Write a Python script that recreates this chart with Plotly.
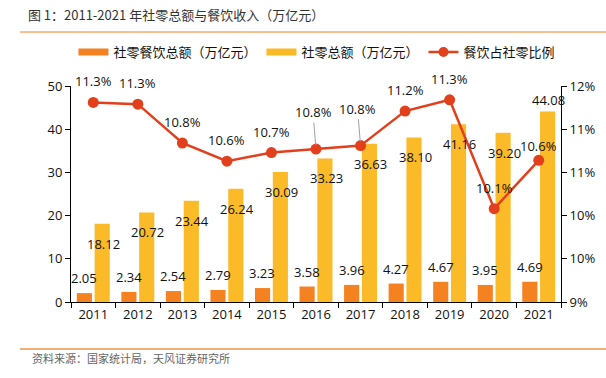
import plotly.graph_objects as go

years = ["2011", "2012", "2013", "2014", "2015", "2016", "2017", "2018", "2019", "2020", "2021"]
catering = [2.05, 2.34, 2.54, 2.79, 3.23, 3.58, 3.96, 4.27, 4.67, 3.95, 4.69]
retail = [18.12, 20.72, 23.44, 26.24, 30.09, 33.23, 36.63, 38.10, 41.16, 39.20, 44.08]
ratio = [11.31, 11.29, 10.84, 10.63, 10.73, 10.77, 10.81, 11.21, 11.34, 10.08, 10.64]
right_ticks = [9, 9.5, 10, 10.5, 11, 11.5]
right_ticktext = ["9%", "10%", "10%", "11%", "11%", "12%"]

ORANGE = "#F58220"
YELLOW = "#FBBA27"
RED = "#E2401C"
FONT = "Open Sans, Noto Sans CJK SC, sans-serif"

fig = go.Figure()
fig.add_trace(go.Bar(x=years, y=catering, name="社零餐饮总额（万亿元）", marker_color=ORANGE,
                     marker_line_width=0, showlegend=False))
fig.add_trace(go.Bar(x=years, y=retail, name="社零总额（万亿元）", marker_color=YELLOW,
                     marker_line_width=0, showlegend=False))
fig.add_trace(go.Scatter(x=years, y=ratio, name="餐饮占社零比例", yaxis="y2", mode="lines+markers",
                         line=dict(color=RED, width=2.5), marker=dict(color=RED, size=11),
                         showlegend=False))
# legend proxies
fig.add_trace(go.Scatter(x=[None], y=[None], mode="lines", name="社零餐饮总额（万亿元）",
                         line=dict(color=ORANGE, width=7)))
fig.add_trace(go.Scatter(x=[None], y=[None], mode="lines", name="社零总额（万亿元）",
                         line=dict(color=YELLOW, width=7)))
fig.add_trace(go.Scatter(x=[None], y=[None], mode="lines+markers", name="餐饮占社零比例",
                         line=dict(color=RED, width=2.5), marker=dict(color=RED, size=10)))

ann = []
for i, y in enumerate(years):
    ann.append(dict(x=i, y=catering[i], xref="x", yref="y", text=f"{catering[i]:.2f}",
                    showarrow=False, xshift=-9, yshift=15, font=dict(size=13, color="#111")))
    ys = 12 if i == len(years) - 1 else -20
    ann.append(dict(x=i, y=retail[i], xref="x", yref="y", text=f"{retail[i]:.2f}",
                    showarrow=False, xshift=10, yshift=ys, font=dict(size=13, color="#111")))
    txt = f"{ratio[i]:.1f}%"
    if y in ("2016", "2017"):
        ann.append(dict(x=i, y=ratio[i], xref="x", yref="y2", text=txt, showarrow=True,
                        arrowhead=0, arrowwidth=1, arrowcolor="#A0A0A0", ax=-3, ay=-37,
                        standoff=4, font=dict(size=13, color="#111")))
    else:
        ys = 14 if y == "2021" else 21
        ann.append(dict(x=i, y=ratio[i], xref="x", yref="y2", text=txt, showarrow=False,
                        yshift=ys, font=dict(size=13, color="#111")))

ann.append(dict(x=-0.0837, y=-0.259, xref="paper", yref="paper", xanchor="left", yanchor="middle",
                text="资料来源：国家统计局，天风证券研究所", showarrow=False,
                font=dict(size=11, color="#666", family="Noto Sans CJK SC")))

fig.update_layout(
    width=606, height=378,
    margin=dict(l=71, r=45, t=86, b=76),
    paper_bgcolor="white", plot_bgcolor="white",
    font=dict(family=FONT, size=13, color="#111"),
    title=dict(text="图 1：2011-2021 年社零总额与餐饮收入（万亿元）", xref="container", yref="container",
               x=0.046, y=0.96, xanchor="left", yanchor="middle",
               font=dict(size=13, color="#333", family="Noto Sans CJK SC")),
    barmode="group", bargap=0.2, bargroupgap=0.15,
    showlegend=True,
    legend=dict(orientation="h", x=0.005, y=1.157, xanchor="left", yanchor="middle",
                font=dict(size=13, family="Noto Sans CJK SC"), traceorder="normal",
                itemwidth=30, bgcolor="rgba(0,0,0,0)"),
    xaxis=dict(type="category", range=[-0.5, 10.5], showline=True, linecolor="#000", linewidth=1,
               ticks="outside", tickson="boundaries", ticklen=5, tickcolor="#000", showgrid=False,
               tickfont=dict(size=13)),
    yaxis=dict(range=[0, 50], dtick=10, showline=True, linecolor="#000", linewidth=1,
               ticks="outside", ticklen=5, tickcolor="#000", showgrid=False, zeroline=False,
               tickfont=dict(size=13)),
    yaxis2=dict(range=[9, 11.5], overlaying="y", side="right", tickvals=right_ticks,
                ticktext=right_ticktext, showline=True, linecolor="#000", linewidth=1,
                ticks="outside", ticklen=5, tickcolor="#000", showgrid=False, zeroline=False,
                tickfont=dict(size=13)),
    annotations=ann,
    shapes=[
        dict(type="line", xref="paper", yref="paper", x0=-0.104, x1=1.092, y0=1.25, y1=1.25,
             line=dict(color="#F5A96A", width=1.5)),
        dict(type="line", xref="paper", yref="paper", x0=-0.104, x1=1.092, y0=-0.2176, y1=-0.2176,
             line=dict(color="#E8964A", width=1.5)),
    ],
)

fig.write_html("out.html", config={"displayModeBar": False},
               post_script="document.body.style.margin='0';")
